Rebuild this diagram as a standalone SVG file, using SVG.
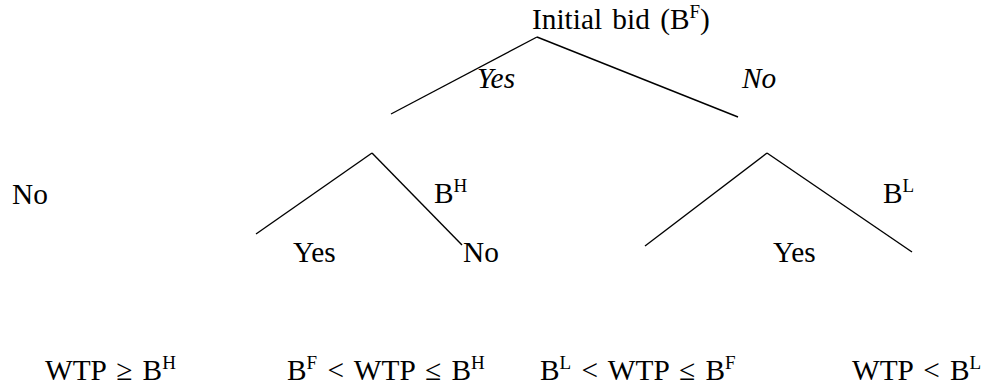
<svg xmlns="http://www.w3.org/2000/svg" width="987" height="387" viewBox="0 0 987 387">
<style>
text{font-family:'Liberation Serif','Times New Roman',Times,serif;font-size:29.33px;fill:#000}
.it{font-style:italic}
.sup{font-size:19px}
.ws{word-spacing:3px}
line{stroke:#000;stroke-width:1.4;stroke-linecap:butt}
</style>
<rect width="987" height="387" fill="#fff"/>
<g id="connectors">
<line x1="537" y1="37" x2="391" y2="114"/>
<line x1="537" y1="37" x2="738" y2="117"/>
<line x1="372" y1="153" x2="256" y2="234"/>
<line x1="372" y1="153" x2="462" y2="245"/>
<line x1="767" y1="153" x2="645" y2="246"/>
<line x1="767" y1="153" x2="912" y2="252"/>
</g>
<g font-family="'Liberation Serif','Times New Roman',Times,serif">
<g id="root"><text class="ws" x="532" y="29">Initial bid (B<tspan class="sup" dy="-11">F</tspan><tspan dy="11">)</tspan></text></g>
<g id="yes-branch-label"><text class="it" x="477" y="88">Yes</text></g>
<g id="no-branch-label"><text class="it" x="742" y="88">No</text></g>
<g id="no-left"><text x="12" y="204">No</text></g>
<g id="node-BH"><text x="434" y="203">B<tspan class="sup" dy="-11">H</tspan></text></g>
<g id="node-BL"><text x="883" y="203">B<tspan class="sup" dy="-11">L</tspan></text></g>
<g id="yes-BH"><text x="293" y="262">Yes</text></g>
<g id="no-BH"><text x="463" y="262">No</text></g>
<g id="yes-BL"><text x="773" y="262">Yes</text></g>
<g id="out1"><text class="ws" x="45" y="380">WTP ≥ B<tspan class="sup" dy="-11">H</tspan></text></g>
<g id="out2"><text class="ws" x="287" y="380">B<tspan class="sup" dy="-11">F</tspan><tspan dy="11"> &lt; WTP ≤ B</tspan><tspan class="sup" dy="-11">H</tspan></text></g>
<g id="out3"><text class="ws" x="540" y="380">B<tspan class="sup" dy="-11">L</tspan><tspan dy="11"> &lt; WTP ≤ B</tspan><tspan class="sup" dy="-11">F</tspan></text></g>
<g id="out4"><text class="ws" x="852" y="380">WTP &lt; B<tspan class="sup" dy="-11">L</tspan></text></g>
</g>
</svg>
